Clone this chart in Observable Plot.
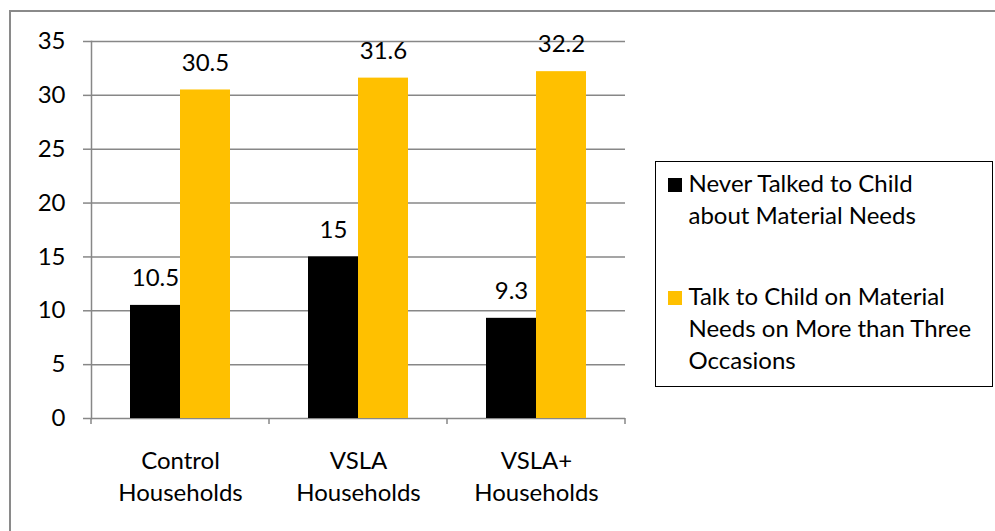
<!DOCTYPE html>
<html>
<head>
<meta charset="utf-8">
<script src="https://cdn.jsdelivr.net/npm/d3@7"></script>
<script src="https://cdn.jsdelivr.net/npm/@observablehq/plot@0.6"></script>
<style>
  html, body { margin: 0; padding: 0; background: #fff; }
  #wrap { position: relative; width: 995px; height: 531px; overflow: hidden; font-family: Lato, "Open Sans", sans-serif; }
  #outer { position: absolute; left: 9px; top: 10px; width: 1100px; height: 700px; border: 2px solid #8a8a8a; }
  #chart { position: absolute; left: 0; top: 0; }
  #legend { position: absolute; left: 655px; top: 161px; width: 338px; height: 226px; box-sizing: border-box;
            border: 1.5px solid #000; padding: 5px 0 0 11.5px; background: #fff; }
  .item { display: flex; align-items: flex-start; font-size: 24px; line-height: 32px; color: #000; white-space: nowrap; }
  .item + .item { margin-top: 49px; }
  .sw { width: 14px; height: 14px; margin-top: 11px; margin-right: 7px; flex: none; }
</style>
</head>
<body>
<div id="wrap">
  <div id="outer"></div>
  <div id="chart"></div>
  <div id="legend"></div>
</div>
<script>
const categories = ["Control Households", "VSLA Households", "VSLA+ Households"];
const categoryLabels = ["Control\nHouseholds", "VSLA\nHouseholds", "VSLA+\nHouseholds"];
const seriesNames = ["Never Talked to Child about Material Needs", "Talk to Child on Material Needs on More than Three Occasions"];
const seriesLegendLines = [["Never Talked to Child", "about Material Needs"], ["Talk to Child on Material", "Needs on More than Three", "Occasions"]];
const seriesColors = ["#000000", "#FFC000"];
const neverTalked = [10.5, 15, 9.3];
const talkMoreThanThree = [30.5, 31.6, 32.2];
const yTicks = [0, 5, 10, 15, 20, 25, 30, 35];

const dataNever = categories.map((c, i) => ({category: c, value: neverTalked[i]}));
const dataTalk = categories.map((c, i) => ({category: c, value: talkMoreThanThree[i]}));
const labelOf = new Map(categories.map((c, i) => [c, categoryLabels[i]]));

const gray = "#878787";

const boundaryTicks = (index, scales, values, dimensions) => {
  const x = scales.x, y = scales.y;
  const n = categories.length;
  const inner = dimensions.width - dimensions.marginLeft - dimensions.marginRight;
  let bw = typeof x.bandwidth === "function" ? x.bandwidth() : x.bandwidth;
  if (!(bw > 0)) bw = inner / n;
  const starts = categories.map((c, i) => {
    const v = x(c);
    return Number.isFinite(v) ? v : dimensions.marginLeft + i * bw;
  });
  const xs = [...starts, starts[n - 1] + bw];
  const y0 = y(0);
  const g = d3.create("svg:g").attr("stroke", gray).attr("stroke-width", 1.5);
  for (const xv of xs) {
    g.append("line").attr("x1", xv).attr("x2", xv).attr("y1", y0).attr("y2", y0 + 6);
  }
  return g.node();
};

const chart = Plot.plot({
  width: 650,
  height: 531,
  marginLeft: 91,
  marginRight: 25,
  marginTop: 41,
  marginBottom: 113,
  style: {fontFamily: "Lato, 'Open Sans', sans-serif", fontSize: "24px", color: "#000", background: "transparent"},
  x: {domain: categories, padding: 0, axis: null},
  y: {domain: [0, 35], axis: null},
  marks: [
    Plot.ruleY(yTicks, {stroke: gray, strokeWidth: 1.5}),
    Plot.frame({anchor: "left", stroke: gray, strokeWidth: 1.5}),
    Plot.axisY({ticks: yTicks, tickSize: 8, tickPadding: 18, stroke: gray, strokeWidth: 1.5, strokeOpacity: 1, fill: "#000", fontSize: 24, label: null, tickFormat: d => String(d)}),
    Plot.axisX({tickSize: 0, tickPadding: 28, fontSize: 24, lineHeight: 1.34, fill: "#000", label: null, tickFormat: d => labelOf.get(d)}),
    boundaryTicks,
    Plot.barY(dataNever, {x: "category", y: "value", fill: seriesColors[0], insetLeft: 39, insetRight: 89}),
    Plot.barY(dataTalk, {x: "category", y: "value", fill: seriesColors[1], insetLeft: 89, insetRight: 39}),
    Plot.text(dataNever, {x: "category", y: "value", text: d => String(d.value), dx: -25, dy: -27, fill: "#000", fontSize: 24}),
    Plot.text(dataTalk, {x: "category", y: "value", text: d => String(d.value), dx: 25, dy: -27, fill: "#000", fontSize: 24})
  ]
});
document.getElementById("chart").appendChild(chart);

const legend = document.getElementById("legend");
seriesNames.forEach((name, i) => {
  const item = document.createElement("div");
  item.className = "item";
  const sw = document.createElement("div");
  sw.className = "sw";
  sw.style.background = seriesColors[i];
  const txt = document.createElement("div");
  txt.innerHTML = seriesLegendLines[i].join("<br>");
  txt.title = name;
  item.appendChild(sw);
  item.appendChild(txt);
  legend.appendChild(item);
});
</script>
</body>
</html>
